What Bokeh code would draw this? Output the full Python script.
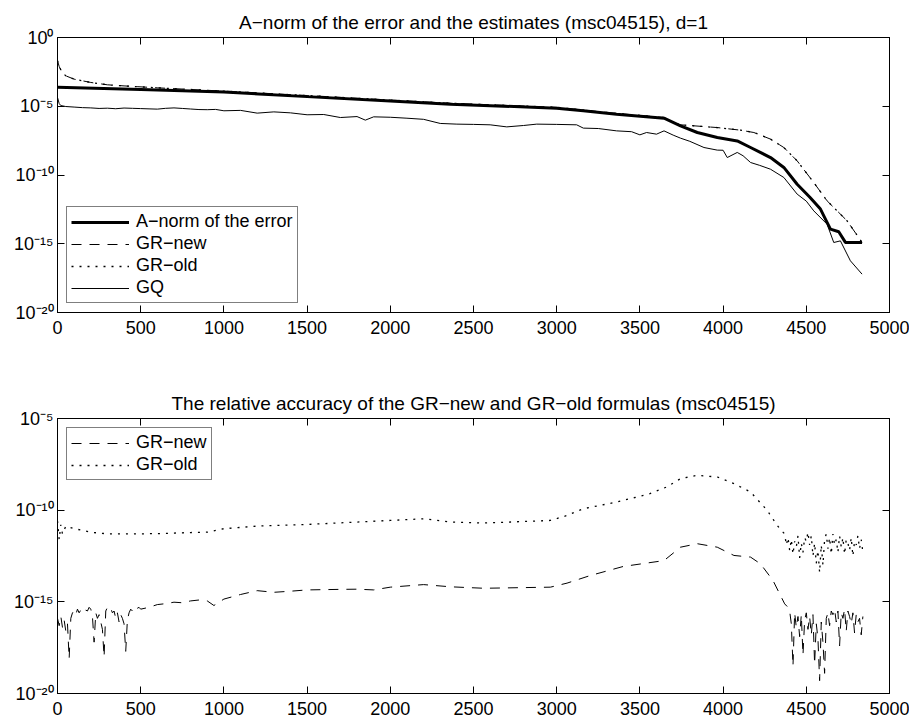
from bokeh.plotting import figure
from bokeh.models import (FixedTicker, LinearAxis, LogAxis, CustomJSTickFormatter,
                          Range1d)
from bokeh.layouts import column
from bokeh.embed import file_html
from bokeh.resources import INLINE

FONT = "Liberation Sans"

# ---------------- data (log10 of the values) ----------------
x_ticks = [0, 500, 1000, 1500, 2000, 2500, 3000, 3500, 4000, 4500, 5000]
y_ticks_top = [1e-20, 1e-15, 1e-10, 1e-5, 1e0]
y_ticks_bot = [1e-20, 1e-15, 1e-10, 1e-5]

title_top = "A\u2212norm of the error and the estimates (msc04515), d=1"
title_bot = "The relative accuracy of the GR\u2212new and GR\u2212old formulas (msc04515)"

anorm_x = [0, 500, 1000, 1500, 2000, 2362, 3000, 3160, 3360, 3645, 3744, 3845,
           3965, 4085, 4165, 4285, 4365, 4445, 4520, 4585, 4645, 4695, 4735, 4835]
anorm_log = [-3.61, -3.78, -3.97, -4.30, -4.62, -4.85, -5.14, -5.33, -5.58, -5.87, -6.42, -6.91,
             -7.27, -7.52, -8.00, -8.73, -9.45, -10.67, -11.60, -12.48, -13.94, -14.13, -14.90, -14.90]

grnew_top_x = [0, 10, 25, 50, 100, 200, 300, 400, 600, 1000, 1500, 2000, 2362, 3000,
               3360, 3645, 3700, 3744, 3965, 4105, 4185, 4285, 4365, 4445, 4545, 4625, 4745, 4835]
grnew_top_log = [-1.70, -2.10, -2.50, -2.79, -3.03, -3.27, -3.44, -3.52, -3.66, -3.90, -4.22, -4.55, -4.78, -5.08,
                 -5.52, -5.82, -6.18, -6.35, -6.55, -6.74, -6.91, -7.39, -8.00, -8.97, -10.55, -11.88, -13.33, -14.90]

grold_top_x = [0, 10, 25, 50, 100, 200, 300, 400, 600, 1000, 1500, 2000, 2362, 3000,
               3360, 3645, 3700, 3744, 3965, 4105, 4185, 4285, 4365, 4445, 4545, 4625, 4745, 4835]
grold_top_log = [-1.68, -2.08, -2.49, -2.79, -3.03, -3.27, -3.44, -3.52, -3.66, -3.90, -4.22, -4.55, -4.78, -5.08,
                 -5.52, -5.82, -6.18, -6.35, -6.55, -6.74, -6.91, -7.39, -8.00, -8.97, -10.55, -11.88, -13.33, -14.90]

gq_top_x = [0, 10, 20, 50, 100, 150, 200, 250, 300, 350,
            400, 450, 500, 550, 600, 650, 700, 750, 800, 850,
            900, 950, 1000, 1100, 1200, 1300, 1400, 1500, 1600, 1700,
            1800, 1850, 1900, 2000, 2100, 2200, 2300, 2400, 2500, 2600,
            2700, 2800, 2880, 3000, 3120, 3160, 3250, 3360, 3450, 3500,
            3540, 3600, 3645, 3700, 3744, 3800, 3885, 3965, 4000, 4025,
            4085, 4120, 4165, 4220, 4285, 4365, 4445, 4500, 4545, 4625,
            4665, 4705, 4765, 4835]
gq_top_log = [-4.36, -4.80, -4.95, -5.02, -5.06, -5.10, -5.12, -5.16, -5.14, -5.18,
              -5.13, -5.15, -5.17, -5.19, -5.21, -5.15, -5.12, -5.16, -5.20, -5.24,
              -5.25, -5.23, -5.33, -5.30, -5.50, -5.41, -5.48, -5.62, -5.60, -5.82,
              -5.75, -6.01, -5.77, -5.80, -5.87, -5.95, -6.25, -6.30, -6.32, -6.35,
              -6.50, -6.40, -6.30, -6.32, -6.35, -6.59, -6.62, -6.79, -6.85, -7.08,
              -6.91, -7.03, -6.79, -7.10, -7.32, -7.55, -8.00, -8.19, -8.20, -8.73,
              -8.36, -8.60, -9.09, -9.30, -9.58, -10.18, -11.39, -11.90, -12.61, -13.58,
              -14.91, -14.79, -16.24, -17.21]

grold_bot_x = [0, 10, 20, 30, 50, 100, 150, 200, 250, 300,
               400, 500, 600, 700, 800, 900, 1000, 1200, 1500, 2000,
               2200, 2362, 2562, 2800, 2962, 3062, 3160, 3360, 3560, 3660,
               3744, 3845, 3965, 4065, 4165, 4265, 4325, 4360] + list(range(4370, 4850, 10))
grold_bot_log = [-10.60, -11.60, -10.80, -11.30, -10.87, -11.01, -11.10, -11.20, -11.25, -11.29,
                 -11.29, -11.29, -11.28, -11.25, -11.22, -11.20, -11.01, -10.87, -10.78, -10.56,
                 -10.47, -10.65, -10.70, -10.62, -10.56, -10.29, -9.92, -9.56, -9.10, -8.74,
                 -8.28, -8.10, -8.19, -8.55, -9.01, -10.01, -10.83, -11.20,
                 -11.3, -11.9, -11.5, -12.2, -11.6, -12.4, -11.7, -12.0, -11.4, -12.6,
                 -11.8, -12.3, -11.5, -11.7, -11.2, -11.9, -11.4, -12.5, -11.8, -12.9,
                 -12.2, -13.4, -11.9, -13.0, -11.6, -11.3, -12.1, -11.5, -12.4, -11.3,
                 -11.9, -11.6, -12.3, -11.4, -12.0, -11.5, -12.4, -11.6, -11.8, -12.2,
                 -11.5, -12.5, -11.7, -11.9, -11.4, -12.1, -11.6, -12.3]

grnew_bot_x = list(range(0, 510, 10)) + [550, 600, 650, 700, 750, 800, 850, 900, 940, 1000,
                                         1100, 1200, 1300, 1400, 1500, 1700, 1800, 1900, 2000, 2200,
                                         2362, 2562, 2962, 3062, 3200, 3400, 3645, 3744, 3845, 3965,
                                         4065, 4165, 4225, 4300, 4370, 4390] + list(range(4400, 4850, 10))
grnew_bot_log = [-15.9, -16.3, -15.8, -16.4, -16.0, -16.6, -16.2, -18.1, -15.9, -15.6,
                 -15.5, -15.7, -15.4, -15.6, -15.45, -15.5, -15.6, -15.45, -15.5, -15.3,
                 -15.4, -15.8, -17.2, -15.6, -15.9, -15.7, -16.1, -16.5, -18.0, -15.5,
                 -15.3, -15.4, -15.35, -15.6, -15.5, -15.9, -15.6, -16.1, -15.7, -15.9,
                 -16.2, -17.7, -16.0, -15.6, -15.4, -15.5, -15.3, -15.4, -15.35, -15.3,
                 -15.4,
                 -15.3, -15.15, -15.1, -15.02, -15.05, -14.95, -14.9, -14.95, -15.2, -14.85,
                 -14.6, -14.39, -14.48, -14.42, -14.35, -14.32, -14.31, -14.35, -14.2, -14.06,
                 -14.18, -14.26, -14.2, -13.98, -13.57, -13.07, -12.75, -12.02, -11.83, -12.02,
                 -12.47, -12.56, -12.93, -13.84, -15.11, -15.3,
                 -15.5, -16.2, -18.5, -15.6, -16.4, -15.8, -16.9, -15.7, -17.9, -16.0,
                 -15.6, -16.5, -15.8, -16.8, -15.7, -18.4, -16.2, -17.0, -19.3, -16.1,
                 -17.2, -18.9, -15.9, -15.6, -16.3, -15.5, -15.7, -15.4, -16.1, -15.5,
                 -17.4, -15.6, -15.9, -15.4, -16.6, -15.5, -15.8, -16.2, -15.6, -16.7,
                 -15.7, -16.1, -15.9, -16.8, -15.8]


def pw(vals):
    return [10.0 ** v for v in vals]


SUP_JS = """
const sup = {'0':'\u2070','1':'\u00b9','2':'\u00b2','3':'\u00b3','4':'\u2074','5':'\u2075',
             '6':'\u2076','7':'\u2077','8':'\u2078','9':'\u2079','-':'\u207b'};
const e = Math.round(Math.log10(tick));
return '10' + String(e).split('').map(c => sup[c]).join('');
"""
EMPTY_JS = "return '';"


def make_fig(title, yr, yticks, height, b_top, b_bot):
    p = figure(width=909, height=height, output_backend="svg", toolbar_location=None,
               y_axis_type="log", x_range=Range1d(0, 5000), y_range=Range1d(*yr),
               min_border_left=57, min_border_right=20, min_border_top=b_top,
               min_border_bottom=b_bot, title=title)
    p.title.text_font = FONT
    p.title.text_font_size = "19px"
    p.title.text_font_style = "normal"
    p.title.align = "center"
    p.title.text_color = "black"
    p.title.standoff = 9
    p.grid.visible = False
    p.outline_line_color = "black"
    p.outline_line_width = 1
    p.background_fill_color = "white"
    p.border_fill_color = "white"

    p.xaxis.ticker = FixedTicker(ticks=x_ticks)
    p.yaxis.ticker = FixedTicker(ticks=yticks)
    p.yaxis.formatter = CustomJSTickFormatter(code=SUP_JS)
    for ax in (p.xaxis[0], p.yaxis[0]):
        ax.major_tick_in = 7
        ax.major_tick_out = 0
        ax.minor_tick_line_color = None
        ax.axis_line_color = "black"
        ax.major_tick_line_color = "black"
        ax.major_label_text_font = FONT
        ax.major_label_text_font_size = "18px"
        ax.major_label_text_color = "black"
    p.xaxis.major_label_standoff = 8
    p.yaxis.major_label_standoff = 4

    top_ax = LinearAxis(ticker=FixedTicker(ticks=x_ticks), formatter=CustomJSTickFormatter(code=EMPTY_JS),
                        major_tick_in=7, major_tick_out=0, minor_tick_line_color=None,
                        major_label_standoff=0, major_label_text_font_size="1px")
    right_ax = LogAxis(ticker=FixedTicker(ticks=yticks), formatter=CustomJSTickFormatter(code=EMPTY_JS),
                       major_tick_in=7, major_tick_out=0, minor_tick_line_color=None,
                       major_label_standoff=0, major_label_text_font_size="1px")
    p.add_layout(top_ax, "above")
    p.add_layout(right_ax, "right")
    return p


p1 = make_fig(title_top, (1e-20, 1.0), y_ticks_top, 356, 37, 44)
p1.line(anorm_x, pw(anorm_log), line_color="black", line_width=3, legend_label="A\u2212norm of the error")
p1.line(grnew_top_x, pw(grnew_top_log), line_color="black", line_width=1, line_dash="10 8",
        legend_label="GR\u2212new")
p1.line(grold_top_x, pw(grold_top_log), line_color="black", line_width=1.3, line_dash="2 6",
        legend_label="GR\u2212old")
p1.line(gq_top_x, pw(gq_top_log), line_color="black", line_width=1, legend_label="GQ")

p2 = make_fig(title_bot, (1e-20, 1e-5), y_ticks_bot, 363, 62, 26)
p2.line(grnew_bot_x, pw(grnew_bot_log), line_color="black", line_width=1, line_dash="10 8",
        legend_label="GR\u2212new")
p2.line(grold_bot_x, pw(grold_bot_log), line_color="black", line_width=1.3, line_dash="2 6",
        legend_label="GR\u2212old")

for p, loc in ((p1, "bottom_left"), (p2, "top_left")):
    lg = p.legend[0]
    lg.location = loc
    lg.margin = 9
    lg.padding = 4
    lg.spacing = 1
    lg.glyph_width = 58
    lg.glyph_height = 20
    lg.label_height = 20
    lg.label_standoff = 7
    lg.label_text_font = FONT
    lg.label_text_font_size = "18px"
    lg.label_text_color = "black"
    lg.border_line_color = "black"
    lg.border_line_width = 1
    lg.background_fill_color = "white"
    lg.background_fill_alpha = 1.0

layout = column(p1, p2, spacing=0)
open("out.html", "w").write(file_html(layout, INLINE))
